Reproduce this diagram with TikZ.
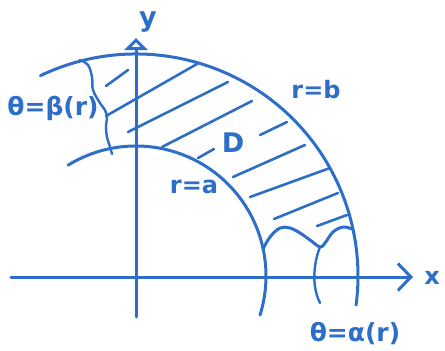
\documentclass[tikz,border=0pt]{standalone}
\usepackage{fontspec}
\setmainfont{DejaVu Sans}
\usetikzlibrary{arrows.meta}
\definecolor{pen}{RGB}{45,110,200}
\begin{document}
\begin{tikzpicture}[x=1pt,y=-1pt,
  penline/.style={draw=pen, line width=3pt, line cap=round, line join=round},
  thinpen/.style={draw=pen, line width=2.4pt, line cap=round, line join=round},
  hatch/.style={draw=pen, line width=2.6pt, line cap=round},
  lab/.style={text=pen, inner sep=0pt, font=\bfseries\fontsize{24}{26}\selectfont},
  biglab/.style={text=pen, inner sep=0pt, font=\bfseries\fontsize{25}{27}\selectfont}]
\useasboundingbox (0,0) rectangle (445,351);
\coordinate (O) at (136,276);
% axes
\coordinate (xs) at (11,277);
\coordinate (xe) at (413,277);
\coordinate (ys) at (136,317);
\coordinate (ye) at (136,38);
\draw[penline, -{Straight Barb[length=13pt, width=27pt]}] (xs) -- (xe);
\draw[penline, -{Triangle[open, length=12pt, width=23pt]}] (ys) -- (ye);
\node[lab] (xl) at (432,278) {x};
\node[lab, font=\bfseries\fontsize{27}{29}\selectfont] (yl) at (148,22) {y};
% arcs
\draw[penline] (O) ++(-115.5:222) arc[start angle=-115.5, end angle=7.5, radius=222];
\draw[penline] (O) ++(-121.5:130) arc[start angle=-121.5, end angle=17.5, radius=130];
% lower boundary theta = alpha(r)
\draw[penline] plot[smooth, tension=0.6] coordinates {(263,249) (270,237) (280,228) (290,228) (300,233) (310,240) (320,247) (325,243) (333,232) (343,227) (352,229)};
\coordinate (adip) at (320,247);
\coordinate (aend) at (320,303);
\draw[thinpen] (adip) .. controls (314,262) and (311,285) .. (aend);
\node[biglab] (al) at (355,334) {θ=α(r)};
% left boundary theta = beta(r)
\draw[thinpen] plot[smooth, tension=0.6] coordinates {(80,60) (88,65) (92,77) (93,90) (100,103) (105,110) (107,116) (106,127) (107,137) (110,147) (112,154)};
\node[biglab] (bl) at (53,108) {θ=β(r)};
% hatching
\draw[hatch] (106,86) -- (128,70);
\draw[hatch] (106,116) -- (197,64);
\draw[hatch] (128,132) -- (228,82);
\draw[hatch] (162,147) -- (252,101);
\draw[hatch] (198,158) -- (214,149);
\draw[hatch] (260,135) -- (287,122);
\draw[hatch] (233,177) -- (305,145);
\draw[hatch] (250,197) -- (330,168);
\draw[hatch] (274,219) -- (338,193);
\draw[hatch] (317,226) -- (347,215);
% labels
\node[biglab, font=\bfseries\fontsize{27}{29}\selectfont] (D) at (233,143) {D};
\node[lab] (rb) at (316,90) {r=b};
\node[lab] (ra) at (194,187) {r=a};
\end{tikzpicture}
\end{document}
